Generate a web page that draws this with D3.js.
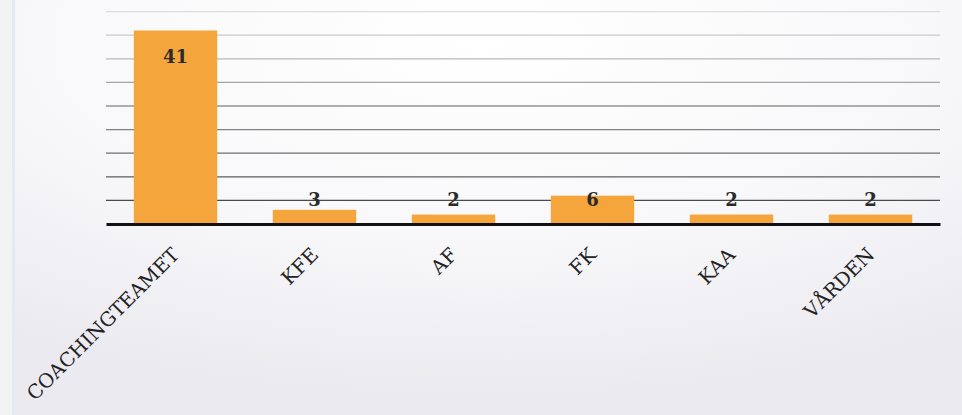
<!DOCTYPE html>
<html>
<head>
<meta charset="utf-8">
<script src="https://cdn.jsdelivr.net/npm/d3@7"></script>
<style>
html,body{margin:0;padding:0;}
body{width:962px;height:415px;overflow:hidden;background:#eeedf2;}
</style>
</head>
<body>
<svg id="chart" width="962" height="415"></svg>
<script>
const categories = ["COACHINGTEAMET", "KFE", "AF", "FK", "KAA", "VÅRDEN"];
const values = [41, 3, 2, 6, 2, 2];
const gridTicks = [5, 10, 15, 20, 25, 30, 35, 40, 45];

const W = 962, H = 415;
const margin = {left: 106, right: 22, top: 0, bottom: 191};
const svg = d3.select("#chart");

// scanned-paper background
const defs = svg.append("defs");
const rg = defs.append("radialGradient").attr("id", "paper")
  .attr("cx", "0.5").attr("cy", "0.1").attr("r", "0.85");
rg.append("stop").attr("offset", "0").attr("stop-color", "#ffffff");
rg.append("stop").attr("offset", "0.55").attr("stop-color", "#f8f8fa");
rg.append("stop").attr("offset", "1").attr("stop-color", "#ebeaf0");
svg.append("rect").attr("width", W).attr("height", H).attr("fill", "url(#paper)");
svg.append("rect").attr("x", 0).attr("y", 0).attr("width", 12).attr("height", H).attr("fill", "#f3f3f6");
svg.append("rect").attr("x", 12).attr("y", 0).attr("width", 3).attr("height", H).attr("fill", "#e6e9f0");

const x = d3.scaleBand().domain(categories).range([margin.left, W - margin.right]).paddingInner(0.4).paddingOuter(0.2);
const y = d3.scaleLinear().domain([0, 45]).range([224, 11.6]);

// gridlines (fading toward top as in scan)
const gridColor = d3.scaleLinear().domain([5, 45]).range(["#4a4a4a", "#dcdce0"]);
svg.append("g").selectAll("line").data(gridTicks).join("line")
  .attr("x1", margin.left).attr("x2", W - margin.right)
  .attr("y1", d => y(d)).attr("y2", d => y(d))
  .attr("stroke", d => gridColor(d)).attr("stroke-width", 1.3);

// bars
svg.append("g").selectAll("rect").data(values).join("rect")
  .attr("x", (d, i) => x(categories[i]))
  .attr("width", x.bandwidth())
  .attr("y", d => y(d))
  .attr("height", d => y(0) - y(d))
  .attr("fill", "#f4a63c");

// baseline axis
const xAxis = d3.axisBottom(x).tickSize(0).tickPadding(0);
const gx = svg.append("g").attr("transform", `translate(0,${y(0)})`).call(xAxis);
gx.select(".domain").attr("stroke", "#111").attr("stroke-width", 3);
gx.selectAll("text")
  .attr("font-family", "'DejaVu Serif', serif")
  .attr("font-size", 19.5)
  .attr("fill", "#222")
  .attr("text-anchor", "end")
  .attr("dy", 0)
  .attr("transform", "translate(5,32) rotate(-45)");

// value labels
svg.append("g").selectAll("text").data(values).join("text")
  .attr("x", (d, i) => x(categories[i]) + x.bandwidth() / 2)
  .attr("y", d => Math.min(y(d) + 26, y(0) - 24))
  .attr("dy", "0.35em")
  .attr("text-anchor", "middle")
  .attr("font-family", "'DejaVu Serif', serif")
  .attr("font-weight", "bold")
  .attr("font-size", 18)
  .attr("fill", "#2a2a2a")
  .text(d => d);
</script>
</body>
</html>
